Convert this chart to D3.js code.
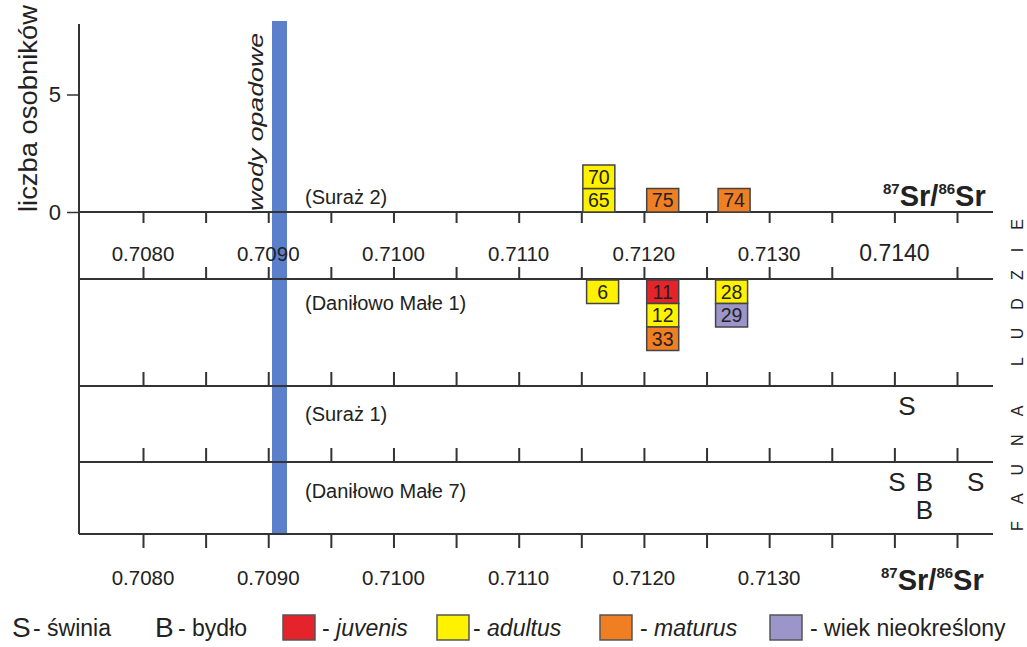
<!DOCTYPE html>
<html><head><meta charset="utf-8">
<script src="https://cdn.jsdelivr.net/npm/d3@7"></script>
<style>body{margin:0;background:#fff}svg{display:block}text{font-family:"Liberation Sans",Arial,sans-serif;fill:#222}</style>
</head><body><svg id="c" width="1027" height="647"></svg>
<script>
// ---- data ----
const tickValues = [0.7080,0.7085,0.7090,0.7095,0.7100,0.7105,0.7110,0.7115,0.7120,0.7125,0.7130,0.7135,0.7140,0.7145];
const midLabels = ["0.7080","0.7090","0.7100","0.7110","0.7120","0.7130","0.7140"];
const bottomLabels = ["0.7080","0.7090","0.7100","0.7110","0.7120","0.7130"];
const countTicks = [0,5];
const rainRange = [0.70903, 0.70915];
const ageKeys = ["juvenis","adultus","maturus","nieokreślony"];
const ageColors = ["#e5232b","#fff200","#f07e22","#9b95c9"];
// Suraż 2 (humans, upward)
const suraz2Values = [0.71164,0.71164,0.71215,0.71272];
const suraz2Labels = ["65","70","75","74"];
const suraz2Ages = ["adultus","adultus","maturus","maturus"];
// Daniłowo Małe 1 (humans, downward)
const dm1Values = [0.71167,0.71215,0.71215,0.71215,0.71270,0.71270];
const dm1Labels = ["6","11","12","33","28","29"];
const dm1Ages = ["adultus","juvenis","adultus","maturus","adultus","nieokreślony"];
// fauna
const suraz1Values = [0.71410];
const suraz1Species = ["S"];
const dm7Values = [0.71402,0.71424,0.71424,0.71465];
const dm7Species = ["S","B","B","S"];
const siteNames = ["(Suraż 2)","(Daniłowo Małe 1)","(Suraż 1)","(Daniłowo Małe 7)"];

// ---- layout ----
const svg = d3.select("#c");
const x = d3.scaleLinear().domain([0.7080,0.7145]).range([143,957]);
const y = d3.scaleLinear().domain([0,5]).range([212,94.5]);
const unit = y(0)-y(1);
const color = d3.scaleOrdinal().domain(ageKeys).range(ageColors);
const xL = 79, xR = 993;
const lines = {s2:212, d1:279, s1:386, d7:462, bot:534};
const stroke = "#333";

// rain water band
svg.append("rect").attr("x",x(rainRange[0])).attr("width",x(rainRange[1])-x(rainRange[0]))
  .attr("y",21).attr("height",lines.bot-21).attr("fill","#5b7fcb");

// horizontal lines
Object.values(lines).forEach(v=>{
  svg.append("line").attr("x1",xL).attr("x2",xR).attr("y1",v).attr("y2",v)
    .attr("stroke",stroke).attr("stroke-width",2);
});
// vertical axis line
svg.append("line").attr("x1",xL).attr("x2",xL).attr("y1",24).attr("y2",lines.bot)
  .attr("stroke",stroke).attr("stroke-width",2);

function tickAxis(axisFn, yPos, vals, size){
  const g = svg.append("g").attr("transform",`translate(0,${yPos})`)
    .call(axisFn(x).tickValues(vals).tickSize(size).tickFormat(""));
  g.select(".domain").remove();
  g.selectAll(".tick line").attr("stroke",stroke).attr("stroke-width",2);
}
tickAxis(d3.axisBottom, lines.s2, tickValues, 11);
tickAxis(d3.axisTop, lines.d1, tickValues.filter(v=>Math.abs(v-0.7140)>1e-6), 12);
tickAxis(d3.axisTop, lines.s1, tickValues, 14);
tickAxis(d3.axisTop, lines.d7, tickValues, 14);
tickAxis(d3.axisBottom, lines.bot, tickValues, 14);

// y axis
const ya = svg.append("g").attr("transform",`translate(${xL},0)`)
  .call(d3.axisLeft(y).tickValues(countTicks).tickFormat(d3.format("d")).tickSize(12).tickPadding(6));
ya.select(".domain").remove();
ya.selectAll(".tick line").attr("stroke",stroke).attr("stroke-width",1.5);
ya.selectAll(".tick text").style("font-size","22px").attr("fill","#222").attr("font-family",null);

// tick labels middle
svg.selectAll(".midlab").data(midLabels).join("text")
  .attr("x",d=>x(+d)).attr("y",261).attr("text-anchor","middle")
  .style("font-size",d=>d==="0.7140"?"23px":"20.5px").text(d=>d);
svg.selectAll(".botlab").data(bottomLabels).join("text")
  .attr("x",d=>x(+d)).attr("y",585).attr("text-anchor","middle")
  .style("font-size","20.5px").text(d=>d);

// Sr labels
function srLabel(xp, yp){
  const t = svg.append("text").attr("x",xp).attr("y",yp).style("font-weight","bold").style("font-size","29px");
  t.append("tspan").text("87").style("font-size","15px").attr("dy",-12);
  t.append("tspan").text("Sr/").attr("dy",12);
  t.append("tspan").text("86").style("font-size","15px").attr("dy",-12);
  t.append("tspan").text("Sr").attr("dy",12);
}
srLabel(883,206);
srLabel(881,590);

// site labels
const siteY = [204,310,421,498];
svg.selectAll(".site").data(siteNames).join("text")
  .attr("x",305).attr("y",(d,i)=>siteY[i]).style("font-size","20px").text(d=>d);

// boxes
function stackBoxes(vals, labels, ages, baseY, dir){
  const counts = {};
  const data = vals.map((v,i)=>{const k=v.toFixed(5); const n=counts[k]||0; counts[k]=n+1; return {v, lab:labels[i], age:ages[i], n};});
  const g = svg.append("g");
  const w = 32;
  const top = d => dir>0 ? y(d.n+1) : baseY + 1 + d.n*unit;
  g.selectAll("rect").data(data).join("rect")
    .attr("x",d=>x(d.v)-w/2).attr("width",w)
    .attr("y",top).attr("height",unit)
    .attr("fill",d=>color(d.age)).attr("stroke","#444").attr("stroke-width",1.5);
  g.selectAll("text").data(data).join("text")
    .attr("x",d=>x(d.v)).attr("y",d=>top(d)+unit/2+7).attr("text-anchor","middle")
    .style("font-size","19.5px").attr("fill","#333").text(d=>d.lab);
}
stackBoxes(suraz2Values, suraz2Labels, suraz2Ages, lines.s2, 1);
stackBoxes(dm1Values, dm1Labels, dm1Ages, lines.d1, -1);

// fauna letters
function fauna(vals, sp, baseY){
  const counts = {};
  const data = vals.map((v,i)=>{const k=v.toFixed(5); const n=counts[k]||0; counts[k]=n+1; return {v, s:sp[i], n};});
  svg.append("g").selectAll("text").data(data).join("text")
    .attr("x",d=>x(d.v)).attr("y",d=>baseY+29+d.n*28).attr("text-anchor","middle")
    .style("font-size","26px").attr("fill","#111").text(d=>d.s);
}
fauna(suraz1Values, suraz1Species, lines.s1);
fauna(dm7Values, dm7Species, lines.d7);

// rotated labels
svg.append("text").attr("transform","translate(37,212) rotate(-90)")
  .attr("textLength",207).attr("lengthAdjust","spacingAndGlyphs")
  .style("font-size","25px").text("liczba osobników");
svg.append("text").attr("transform","translate(263,211) rotate(-90)")
  .attr("textLength",178).attr("lengthAdjust","spacingAndGlyphs")
  .style("font-size","21px").style("font-style","italic").text("wody opadowe");
svg.append("text").attr("transform","translate(1023,531) rotate(-90)")
  .style("font-size","16px").style("letter-spacing","18px").attr("fill","#333").text("FAUNA LUDZIE");

// legend
const lg = svg.append("g");
lg.append("text").attr("x",12).attr("y",637).style("font-size","28px").text("S");
lg.append("text").attr("x",33).attr("y",636).style("font-size","23px").text("- świnia");
lg.append("text").attr("x",155).attr("y",637).style("font-size","28px").text("B");
lg.append("text").attr("x",178).attr("y",636).style("font-size","23px").text("- bydło");
const legItems = [{k:"juvenis",bx:283,tx:322,lab:"juvenis",it:true},
  {k:"adultus",bx:437,tx:473,lab:"adultus",it:true},
  {k:"maturus",bx:600,tx:640,lab:"maturus",it:true},
  {k:"nieokreślony",bx:770,tx:810,lab:"wiek nieokreślony",it:false}];
legItems.forEach(d=>{
  lg.append("rect").attr("x",d.bx).attr("y",615).attr("width",32).attr("height",25)
    .attr("fill",color(d.k)).attr("stroke","#555").attr("stroke-width",1.5);
  const t = lg.append("text").attr("x",d.tx).attr("y",636).style("font-size","23px");
  t.append("tspan").text("- ");
  t.append("tspan").text(d.lab).style("font-style",d.it?"italic":"normal");
});
</script></body></html>
